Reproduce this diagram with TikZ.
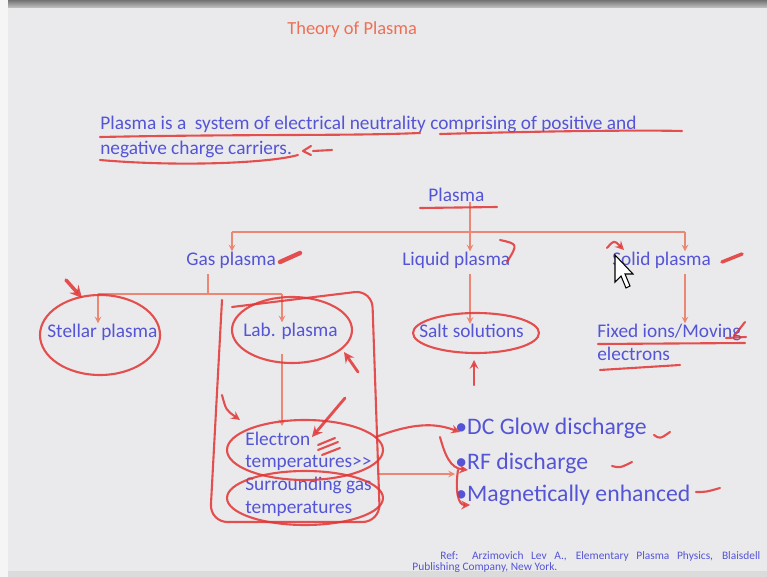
\documentclass[tikz,border=0pt]{standalone}
\usepackage{fontspec}
\setmainfont{Carlito}
\usetikzlibrary{arrows, positioning, calc}
\definecolor{slideblue}{RGB}{84, 84, 214}
\definecolor{linkc}{RGB}{235, 135, 115}
\definecolor{titlec}{RGB}{236, 112, 84}
\definecolor{penred}{RGB}{226, 52, 52}
\definecolor{slidebg}{RGB}{234, 234, 236}

\begin{document}
\begin{tikzpicture}[
    x=0.02cm, y=-0.02cm, >=stealth,
    item/.style={inner sep=0pt, anchor=west, text=slideblue, font=\fontsize{11}{13}\selectfont},
    bullet/.style={item, font=\fontsize{13.5}{15}\selectfont},
    reftext/.style={item, font=\fontsize{6.5}{7.5}\selectfont},
    link/.style={draw=linkc, line width=0.7pt},
    arrow/.style={link, ->},
    pen/.style={draw=penred, line width=1.2pt, line cap=round, line join=round, opacity=0.85}
]
    % slide
    \fill[slidebg] (0,0) rectangle (767,577);
    \fill[gray!8] (0,0) rectangle (8,577);
    \shade[top color=gray!90!black, bottom color=gray!45] (8,0) rectangle (767,8);
    \fill[gray!28] (8,571) rectangle (767,577);
    \useasboundingbox (0,0) rectangle (767,577);

    \node[item, text=titlec, font=\fontsize{10.5}{12}\selectfont] (title) at (287,30) {Theory of Plasma};
    \node[item, align=left, font=\fontsize{11}{14.2}\selectfont] (def) at (100,137)
        {Plasma is a\ \ system of electrical neutrality comprising of positive and\\negative charge carriers.};

    \node[item] (plasma) at (428,195) {Plasma};
    \node[item] (gas) at (186,260) {Gas plasma};
    \node[item] (liquid) at (402,260) {Liquid plasma};
    \node[item] (solid) at (612,260) {Solid plasma};
    \node[item] (stellar) at (47,332) {Stellar plasma};
    \node[item] (lab) at (243,331) {Lab. plasma};
    \node[item] (salt) at (419,331) {Salt solutions};
    \node[item, align=left] (fixed) at (597,342) {Fixed ions/Moving\\electrons};
    \node[item, align=left, font=\fontsize{11}{12.9}\selectfont] (elec) at (245,474)
        {Electron\\temperatures{>}{>}\\Surrounding gas\\temperatures};
    \node[bullet] (bul1) at (455,428) {•DC Glow discharge};
    \node[bullet] (bul2) at (455,463) {•RF discharge};
    \node[bullet] (bul3) at (455,495) {•Magnetically enhanced};
    \node[reftext] (ref1) at (440,556) {\makebox[6.4cm][s]{Ref: Arzimovich Lev A., Elementary Plasma Physics, Blaisdell}};
    \node[reftext] (ref2) at (412,568) {Publishing Company, New York.};

    % tree
    \coordinate (busL) at (232,232);
    \coordinate (busM) at (470,232);
    \coordinate (busR) at (685,232);
    \coordinate (gbusL) at (98,294);
    \coordinate (gbusM) at (208,294);
    \coordinate (gbusR) at (282,294);
    \draw[link] (busM |- plasma.south) -- (busM);
    \draw[link] (busL) -- (busR);
    \draw[arrow] (busL) -- (busL |- gas.north);
    \draw[arrow] (busM) -- (busM |- liquid.north);
    \draw[arrow] (busR) -- (busR |- solid.north);
    \draw[link, shorten <=3pt] (gbusM |- gas.south) -- (gbusM);
    \draw[link] (gbusL) -- (gbusR);
    \draw[arrow] (gbusL) -- (gbusL |- stellar.north);
    \draw[arrow] (gbusR) -- (gbusR |- lab.north);
    \draw[arrow, shorten <=8pt, shorten >=3pt] (gbusR |- lab.south) -- (gbusR |- elec.north);
    \draw[arrow, shorten <=3pt] (busM |- liquid.south) -- (busM |- salt.north);
    \draw[arrow, shorten <=3pt] (busR |- solid.south) -- (busR |- fixed.north);
    \draw[arrow, shorten <=3pt] (elec.east) -- (elec.east -| bul2.west);

    % pen marks
    \draw[pen] (100,137) .. controls (250,134) and (350,136) .. (420,133);
    \draw[pen] (440,134) .. controls (550,131) and (640,130) .. (682,131);
    \draw[pen] (100,160) .. controls (180,167) and (270,163) .. (298,155);
    \draw[pen] (311,146) -- (303,151) -- (311,155) (313,151) -- (332,150);
    \draw[pen] (420,208) -- (497,207);
    \draw[pen, line width=2.5pt] (280,262) -- (300,253);
    \draw[pen, line width=2pt, ->] (66,280) -- (82,298);
    \draw[pen] (100,335) ellipse [x radius=60, y radius=40];
    \draw[pen, rounded corners=10] (232,307) -- (372,290) -- (380,522) -- (210,522) -- (222,300);
    \draw[pen] (292,330) ellipse [x radius=60, y radius=33];
    \draw[pen, line width=1.6pt, ->] (358,372) -- (344,352);
    \draw[pen, ->] (222,395) .. controls (226,410) .. (240,420);
    \draw[pen, line width=1.6pt, ->] (345,398) -- (312,437);
    \draw[pen] (318,445) -- (335,438) (318,450) -- (338,442) (322,455) -- (340,448);
    \draw[pen] (305,450) ellipse [x radius=78, y radius=30];
    \draw[pen] (305,498) ellipse [x radius=78, y radius=27];
    \draw[pen] (476,333) ellipse [x radius=63, y radius=20];
    \draw[pen, ->] (474,385) -- (474,360);
    \draw[pen] (500,240) .. controls (518,244) .. (507,262);
    \draw[pen, ->] (607,248) .. controls (614,240) .. (624,250);
    \draw[pen, line width=2pt] (722,262) -- (742,254);
    \draw[pen] (598,344) -- (745,343);
    \draw[pen] (600,370) -- (680,365);
    \draw[pen] (726,338) -- (746,337) (745,322) -- (734,336);
    \draw[pen, ->] (376,437) .. controls (420,420) and (440,425) .. (460,432);
    \draw[pen, ->] (440,437) .. controls (445,455) and (450,468) .. (468,470);
    \draw[pen, ->] (458,470) .. controls (455,490) and (458,505) .. (470,505);
    \draw[pen] (654,435) .. controls (660,439) .. (670,432);
    \draw[pen] (612,466) .. controls (620,468) .. (632,462);
    \draw[pen] (696,492) .. controls (706,492) .. (720,488);

    % pointer
    \draw[fill=white, line width=0.6pt] (615,255) -- (615,282) -- (621,276) -- (626,288) -- (630,286) -- (625,274) -- (633,274) -- cycle;
\end{tikzpicture}
\end{document}
